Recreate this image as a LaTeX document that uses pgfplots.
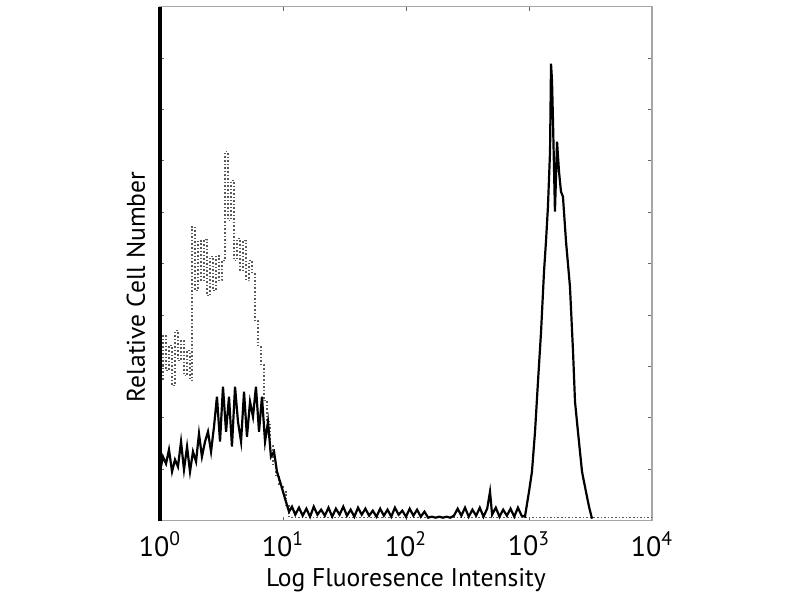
\documentclass[border=0pt]{standalone}
\usepackage{pgfplots}
\pgfplotsset{compat=1.18}
\usepackage{fontspec}
\setmainfont{PT Sans}
\begin{document}
\begin{tikzpicture}
\begin{axis}[
  scale only axis, width=246pt, height=257pt,
  xmin=0, xmax=4, ymin=0, ymax=514,
  axis line style={black!35, line width=0.8pt},
  xtick={0,1,2,3,4},
  xticklabels={10\textsuperscript{0},10\textsuperscript{1},10\textsuperscript{2},10\textsuperscript{3},10\textsuperscript{4}},
  /pgf/number format/assume math mode=true,
  xticklabel style={font=\fontsize{14}{16}\selectfont, yshift=-2pt},
  ytick={0,51.4,...,514}, yticklabels={},
  tick style={black!60, line width=0.5pt},
  major tick length=2pt,
  tick align=inside,
  xlabel={Log Fluoresence Intensity},
  xlabel style={font=\fontsize{12.8}{14}\selectfont, yshift=1pt},
  ylabel={Relative Cell Number},
  ylabel style={font=\fontsize{12.8}{14}\selectfont, at={(rel axis cs:-0.016,0.455)}, anchor=south},
  clip=false,
]
% isotype control (dotted)
\addplot[const plot, black!65, densely dotted, line width=0.8pt] coordinates {
(0.000,140) (0.024,185) (0.049,150) (0.073,175) (0.098,135) (0.122,190) (0.146,160)
(0.171,180) (0.195,145) (0.220,170) (0.244,140) (0.260,294) (0.285,230) (0.309,280)
(0.333,240) (0.358,281) (0.382,225) (0.407,264) (0.431,230) (0.455,265) (0.480,240)
(0.504,260) (0.528,369) (0.553,300) (0.577,340) (0.602,260) (0.626,282) (0.650,250)
(0.675,280) (0.699,240) (0.724,260) (0.748,248) (0.772,200) (0.797,175) (0.821,156)
(0.846,120) (0.870,99) (0.894,75) (0.919,56) (0.943,45) (0.967,35) (1.000,29)
(1.024,15) (1.049,4) (1.073,3) (4.000,3)
};
% stained sample (solid)
\addplot[black, line width=1.1pt] coordinates {
(0.000,49) (0.024,64) (0.049,57) (0.073,71) (0.098,49) (0.122,61) (0.146,54)
(0.171,79) (0.195,51) (0.220,74) (0.244,49) (0.268,69) (0.293,59) (0.317,87)
(0.341,64) (0.366,79) (0.390,89) (0.415,69) (0.439,94) (0.463,124) (0.488,79)
(0.512,134) (0.537,89) (0.561,124) (0.585,74) (0.610,134) (0.634,99) (0.659,79)
(0.683,129) (0.707,84) (0.732,119) (0.756,104) (0.780,134) (0.805,89) (0.829,124)
(0.854,79) (0.878,99) (0.902,64) (0.927,69) (0.951,49) (0.976,39) (1.000,29)
(1.024,19) (1.049,9) (1.073,14)
(1.100,6) (1.130,13) (1.160,5) (1.190,12) (1.220,4) (1.250,14) (1.280,6) (1.310,11)
(1.340,5) (1.370,13) (1.400,4) (1.430,12) (1.460,6) (1.490,14) (1.520,5) (1.550,11)
(1.580,4) (1.610,13) (1.640,6) (1.670,12) (1.700,5) (1.730,10) (1.760,4) (1.790,12)
(1.820,5) (1.850,11) (1.880,4) (1.910,13) (1.940,6) (1.970,10) (2.000,4) (2.030,12)
(2.060,5) (2.090,11) (2.120,4) (2.150,9) (2.180,3) (2.210,4) (2.240,3) (2.270,4)
(2.300,3) (2.330,4) (2.360,3) (2.390,5) (2.420,12) (2.450,5) (2.480,13) (2.510,4)
(2.540,11) (2.570,5) (2.600,13) (2.630,4) (2.660,12) (2.683,29) (2.700,6) (2.730,13)
(2.760,4) (2.790,11) (2.820,5) (2.850,12) (2.880,4) (2.910,13) (2.940,5) (2.967,4)
(3.000,29) (3.024,49) (3.049,89) (3.073,139) (3.098,189) (3.122,249) (3.138,279)
(3.154,314) (3.171,369) (3.179,457) (3.187,440) (3.195,400) (3.211,309) (3.228,379)
(3.244,349) (3.260,329) (3.276,324) (3.301,279) (3.333,234) (3.358,169) (3.374,119)
(3.398,89) (3.431,49) (3.463,29) (3.488,14) (3.512,2)
};
\draw[black, line width=1.6pt] (rel axis cs:0,0) -- (rel axis cs:0,1);
\coordinate (bl) at (rel axis cs:0,0);
\coordinate (tr) at (rel axis cs:1,1);
\end{axis}
\path ([xshift=-80pt,yshift=-40.5pt]bl) rectangle ([xshift=74pt,yshift=2.5pt]tr);
\end{tikzpicture}
\end{document}
